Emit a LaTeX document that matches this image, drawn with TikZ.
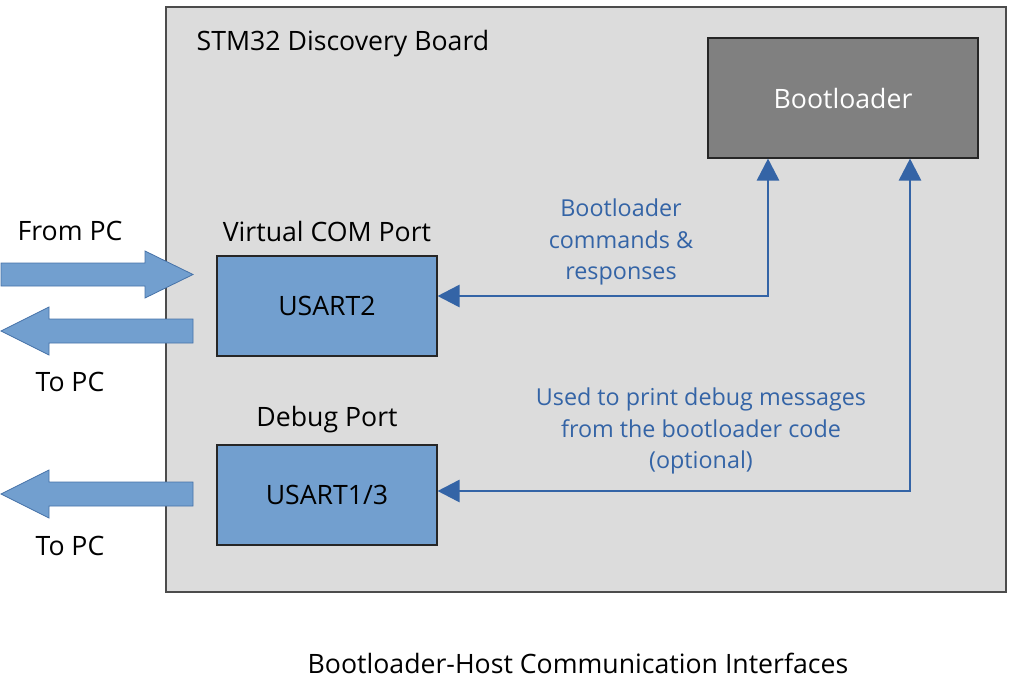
\documentclass[tikz,border=0pt]{standalone}
\usepackage{fontspec}
\setmainfont{Open Sans}
\usetikzlibrary{arrows.meta}

\definecolor{boardgray}{RGB}{220,220,220}
\definecolor{bootgray}{RGB}{128,128,128}
\definecolor{portblue}{RGB}{114,159,207}
\definecolor{arrowedge}{RGB}{70,114,168}
\definecolor{linkblue}{RGB}{52,100,166}

\tikzset{
  board/.style={draw=black!70, fill=boardgray, line width=0.8pt, minimum width=630pt, minimum height=438.75pt},
  port/.style={draw=black!85, fill=portblue, line width=0.8pt, minimum width=165pt, minimum height=75pt, font=\fontsize{20}{24}\selectfont},
  boot/.style={draw=black!85, fill=bootgray, line width=0.8pt, text=white, minimum width=202.5pt, minimum height=90pt, font=\fontsize{20}{24}\selectfont},
  lbl/.style={font=\fontsize{20}{24}\selectfont},
  note/.style={text=linkblue, align=center, font=\fontsize{17.5}{23.5}\selectfont},
  link/.style={draw=linkblue, line width=2pt, {Triangle[length=16.5pt,width=16.5pt]}-{Triangle[length=16.5pt,width=16.5pt]}},
  bigarrow/.style={fill=portblue, draw=arrowedge, line width=0.6pt}
}

\begin{document}
\begin{tikzpicture}[x=0.75pt, y=-0.75pt]
\useasboundingbox (0,0) rectangle (1013,678);

%%%%%%%%% board and blocks
\node[board] (stm) at (586,299.5) {};
\node[lbl, anchor=west] (stmlbl) at (192,44) {STM32 Discovery Board};
\node[boot] (bootl) at (843,98) {Bootloader};
\node[port] (usart2) at (327,306) {USART2};
\node[port] (usart13) at (327,495) {USART1/3};
\node[lbl] (vcom) at (327,231) {Virtual COM Port};
\node[lbl] (dbg) at (327,420) {Debug Port};

%%%%%%%%% links to the bootloader
\coordinate (j1) at (768,296);
\coordinate (j2) at (910,491);
\draw[link] (bootl.south -| j1) |- (usart2.east |- j1);
\draw[link] (bootl.south -| j2) |- (usart13.east |- j2);
\node[note] (cmdlbl) at (621,242) {Bootloader\\commands \&\\responses};
\node[note] (dbglbl) at (701,431) {Used to print debug messages\\from the bootloader code\\(optional)};

%%%%%%%%% host side arrows
\filldraw[bigarrow] (1,263) -- (145,263) -- (145,251) -- (193,274.5) -- (145,298) -- (145,286) -- (1,286) -- cycle;
\filldraw[bigarrow] (193,319) -- (49,319) -- (49,307) -- (1,331) -- (49,355) -- (49,343) -- (193,343) -- cycle;
\filldraw[bigarrow] (193,482) -- (49,482) -- (49,470) -- (1,494) -- (49,518) -- (49,506) -- (193,506) -- cycle;
\node[lbl] (frompc) at (70,231) {From PC};
\node[lbl] (topc1) at (70,382) {To PC};
\node[lbl] (topc2) at (70,546) {To PC};

%%%%%%%%% caption
\node[lbl, inner sep=1pt] (cap) at (578,663) {Bootloader-Host Communication Interfaces};
\end{tikzpicture}
\end{document}
